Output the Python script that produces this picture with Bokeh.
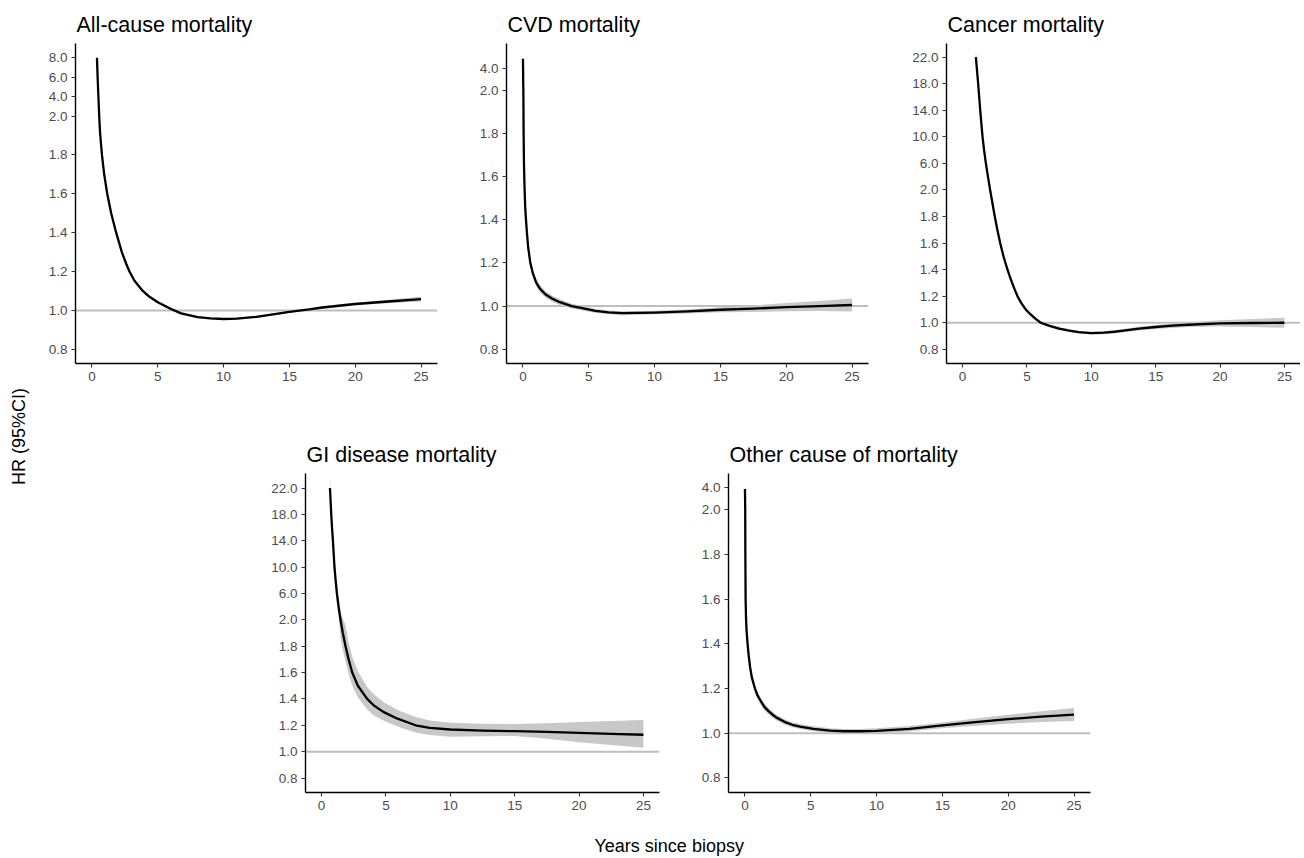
import math
from bokeh.plotting import figure
from bokeh.layouts import row, column
from bokeh.models import Spacer, Span, FixedTicker, CustomJSTickFormatter, Range1d
from bokeh.core.properties import value
from bokeh.embed import file_html
from bokeh.resources import INLINE

FONT = "Liberation Sans"

# ---------------- data ----------------
x_ticks = [0, 5, 10, 15, 20, 25]

allcause_title = "All-cause mortality"
allcause_yticks = [0.8, 1.0, 1.2, 1.4, 1.6, 1.8, 2.0, 4.0, 6.0, 8.0]
allcause_x = [0.38, 0.43, 0.49, 0.55, 0.62, 0.76, 0.93, 1.16, 1.46, 1.84, 2.27, 2.60, 2.85, 3.23, 3.86, 4.37, 5.0, 5.63, 6.01, 6.77, 8.03, 9.0, 10.0, 11.0, 12.5, 14.0, 15.0, 16.5, 17.5, 20.0, 22.5, 25.0]
allcause_hr = [8.0, 6.0, 4.0, 2.0, 1.91, 1.80, 1.70, 1.60, 1.50, 1.40, 1.30, 1.24, 1.20, 1.153, 1.10, 1.07, 1.042, 1.02, 1.007, 0.985, 0.966, 0.959, 0.956, 0.958, 0.967, 0.982, 0.993, 1.005, 1.015, 1.033, 1.046, 1.058]
allcause_lo = [7.6, 5.7, 3.8, 1.97, 1.88, 1.775, 1.68, 1.582, 1.484, 1.387, 1.289, 1.231, 1.191, 1.145, 1.093, 1.063, 1.035, 1.014, 1.001, 0.980, 0.961, 0.954, 0.951, 0.953, 0.962, 0.977, 0.988, 1.0, 1.009, 1.026, 1.037, 1.046]
allcause_hi = [8.4, 6.3, 4.2, 2.03, 1.94, 1.825, 1.72, 1.618, 1.516, 1.413, 1.311, 1.249, 1.209, 1.161, 1.107, 1.077, 1.049, 1.026, 1.013, 0.990, 0.971, 0.964, 0.961, 0.963, 0.972, 0.987, 0.998, 1.010, 1.021, 1.040, 1.055, 1.070]

cvd_title = "CVD mortality"
cvd_yticks = [0.8, 1.0, 1.2, 1.4, 1.6, 1.8, 2.0, 4.0]
cvd_x = [0.0, 0.01, 0.02, 0.03, 0.05, 0.08, 0.12, 0.17, 0.23, 0.30, 0.40, 0.56, 0.76, 1.0, 1.3, 1.7, 2.2, 2.8, 3.7, 4.5, 5.5, 6.5, 7.5, 10.0, 12.5, 15.0, 17.5, 20.0, 22.5, 25.0]
cvd_hr = [4.9, 4.0, 2.6, 2.0, 1.8, 1.65, 1.55, 1.46, 1.40, 1.34, 1.27, 1.20, 1.15, 1.11, 1.08, 1.055, 1.035, 1.018, 1.0, 0.99, 0.978, 0.971, 0.967, 0.970, 0.975, 0.983, 0.988, 0.995, 1.0, 1.005]
cvd_lo = [4.6, 3.7, 2.4, 1.95, 1.76, 1.61, 1.515, 1.43, 1.375, 1.317, 1.25, 1.183, 1.134, 1.094, 1.064, 1.04, 1.021, 1.005, 0.989, 0.980, 0.969, 0.962, 0.958, 0.962, 0.966, 0.971, 0.973, 0.976, 0.977, 0.975]
cvd_hi = [5.2, 4.3, 2.8, 2.05, 1.84, 1.69, 1.585, 1.49, 1.425, 1.363, 1.29, 1.217, 1.166, 1.126, 1.096, 1.07, 1.049, 1.031, 1.011, 1.0, 0.987, 0.980, 0.976, 0.978, 0.984, 0.995, 1.003, 1.014, 1.024, 1.035]

cancer_title = "Cancer mortality"
cancer_yticks = [0.8, 1.0, 1.2, 1.4, 1.6, 1.8, 2.0, 6.0, 10.0, 14.0, 18.0, 22.0]
cancer_x = [1.03, 1.12, 1.21, 1.29, 1.37, 1.46, 1.55, 1.67, 1.81, 1.97, 2.14, 2.32, 2.5, 2.7, 2.92, 3.05, 3.18, 3.33, 3.49, 3.66, 3.85, 4.05, 4.26, 4.55, 4.9, 5.15, 5.43, 5.72, 6.07, 6.7, 7.5, 8.3, 9.0, 10.0, 11.0, 11.8, 12.5, 13.7, 15.0, 16.3, 17.5, 20.0, 22.5, 25.0]
cancer_hr = [22.0, 20.0, 18.0, 16.0, 14.0, 12.0, 10.0, 8.0, 6.0, 4.0, 2.0, 1.9, 1.8, 1.7, 1.6, 1.55, 1.5, 1.45, 1.4, 1.35, 1.3, 1.25, 1.2, 1.15, 1.1, 1.075, 1.05, 1.025, 1.0, 0.978, 0.955, 0.940, 0.930, 0.922, 0.925, 0.932, 0.940, 0.955, 0.968, 0.978, 0.985, 0.995, 0.998, 1.0]
cancer_lo = [21.0, 19.0, 17.0, 15.0, 13.1, 11.1, 9.2, 7.2, 5.3, 3.4, 1.96, 1.87, 1.77, 1.675, 1.578, 1.53, 1.481, 1.432, 1.384, 1.335, 1.287, 1.238, 1.188, 1.139, 1.088, 1.063, 1.037, 1.013, 0.988, 0.967, 0.944, 0.930, 0.920, 0.912, 0.914, 0.920, 0.928, 0.941, 0.953, 0.961, 0.967, 0.972, 0.968, 0.962]
cancer_hi = [23.0, 21.0, 19.0, 17.0, 14.9, 12.9, 10.8, 8.8, 6.7, 4.6, 2.3, 1.93, 1.83, 1.725, 1.622, 1.57, 1.519, 1.468, 1.416, 1.365, 1.313, 1.262, 1.212, 1.161, 1.112, 1.087, 1.063, 1.037, 1.012, 0.989, 0.966, 0.950, 0.940, 0.932, 0.936, 0.944, 0.952, 0.969, 0.983, 0.995, 1.003, 1.018, 1.028, 1.038]

gi_title = "GI disease mortality"
gi_yticks = [0.8, 1.0, 1.2, 1.4, 1.6, 1.8, 2.0, 6.0, 10.0, 14.0, 18.0, 22.0]
gi_x = [0.65, 0.70, 0.75, 0.81, 0.88, 0.94, 1.0, 1.09, 1.19, 1.32, 1.47, 1.65, 1.86, 2.1, 2.38, 2.82, 3.54, 4.06, 4.83, 5.9, 7.3, 8.4, 10.0, 12.5, 15.0, 17.5, 20.0, 22.5, 25.0]
gi_hr = [22.0, 20.0, 18.0, 16.0, 14.0, 12.0, 10.0, 8.0, 6.0, 4.0, 2.0, 1.9, 1.8, 1.7, 1.6, 1.5, 1.4, 1.35, 1.3, 1.25, 1.2, 1.18, 1.168, 1.16, 1.155, 1.15, 1.143, 1.135, 1.128]
gi_lo = [20.5, 18.3, 16.2, 14.2, 12.2, 10.2, 8.2, 6.3, 4.4, 2.6, 1.86, 1.77, 1.68, 1.59, 1.50, 1.41, 1.32, 1.275, 1.235, 1.19, 1.145, 1.127, 1.113, 1.116, 1.118, 1.098, 1.072, 1.05, 1.03]
gi_hi = [23.5, 21.7, 19.8, 17.8, 15.8, 13.8, 11.8, 9.7, 7.6, 5.4, 3.2, 2.15, 1.96, 1.83, 1.72, 1.61, 1.49, 1.435, 1.375, 1.315, 1.262, 1.237, 1.219, 1.212, 1.21, 1.215, 1.224, 1.232, 1.24]

other_title = "Other cause of mortality"
other_yticks = [0.8, 1.0, 1.2, 1.4, 1.6, 1.8, 2.0, 4.0]
other_x = [0.0, 0.01, 0.02, 0.03, 0.05, 0.08, 0.12, 0.20, 0.28, 0.38, 0.52, 0.76, 0.95, 1.14, 1.45, 1.77, 2.1, 2.4, 3.04, 3.6, 4.18, 5.2, 6.46, 7.5, 8.75, 10.0, 12.5, 15.0, 17.5, 20.0, 22.5, 25.0]
other_hr = [3.85, 3.0, 2.0, 1.8, 1.6, 1.52, 1.46, 1.40, 1.35, 1.30, 1.25, 1.20, 1.17, 1.15, 1.12, 1.10, 1.083, 1.07, 1.05, 1.038, 1.03, 1.02, 1.012, 1.009, 1.009, 1.011, 1.02, 1.035, 1.05, 1.063, 1.074, 1.083]
other_lo = [3.6, 2.8, 1.95, 1.77, 1.57, 1.49, 1.435, 1.375, 1.327, 1.279, 1.23, 1.182, 1.153, 1.133, 1.104, 1.085, 1.069, 1.057, 1.038, 1.027, 1.019, 1.009, 1.002, 0.999, 0.999, 1.0, 1.008, 1.022, 1.034, 1.043, 1.05, 1.055]
other_hi = [4.1, 3.2, 2.05, 1.83, 1.63, 1.55, 1.485, 1.425, 1.373, 1.321, 1.27, 1.218, 1.187, 1.167, 1.136, 1.115, 1.097, 1.083, 1.062, 1.049, 1.041, 1.031, 1.022, 1.019, 1.019, 1.022, 1.032, 1.048, 1.066, 1.083, 1.098, 1.113]

y_label = "HR (95%CI)"
x_label = "Years since biopsy"
ref_hr = 1.0

# ---------------- broken y scale: linear to 2.0, compressed above ----------------
BREAK = 2.0
SQUEEZE = 0.05


def tr(v):
    return v if v <= BREAK else BREAK + (v - BREAK) * SQUEEZE


def trl(vals):
    return [round(tr(v), 6) for v in vals]


formatter = CustomJSTickFormatter(code="""
    const v = tick <= 2.00001 ? tick : 2.0 + (tick - 2.0) / 0.05;
    return v.toFixed(1);
""")


def panel(title, xs, hr, lo, hi, yticks, y0, y1, mbl, fw, mbr, mbt, fh, mbb):
    p = figure(width=mbl + fw + mbr, height=mbt + fh + mbb,
               min_border_left=mbl, min_border_right=mbr,
               min_border_top=mbt, min_border_bottom=mbb,
               x_range=Range1d(-1.25, 26.25), y_range=Range1d(y0, y1),
               output_backend="svg", toolbar_location=None,
               background_fill_color="white", border_fill_color="white")
    p.outline_line_color = None
    p.grid.visible = False
    p.title.text = title
    p.title.text_font = FONT
    p.title.text_font_size = "21.5px"
    p.title.text_font_style = "normal"
    p.title.text_color = "black"
    p.title.standoff = 13
    p.title.offset = 1

    p.add_layout(Span(location=tr(ref_hr), dimension="width",
                      line_color="#BEBEBE", line_width=2, level="underlay"))
    p.varea(x=xs, y1=trl(lo), y2=trl(hi), fill_color="#C8C8C8", fill_alpha=1.0)
    p.line(x=xs, y=trl(hr), line_color="black", line_width=2.3, line_join="round")

    for ax in (p.xaxis[0], p.yaxis[0]):
        ax.axis_line_color = "black"
        ax.axis_line_width = 1.4
        ax.major_tick_line_color = "#333333"
        ax.major_tick_line_width = 1.1
        ax.major_tick_out = 4
        ax.major_tick_in = 0
        ax.minor_tick_line_color = None
        ax.major_label_text_font = FONT
        ax.major_label_text_font_size = "13.5px"
        ax.major_label_text_color = "#4D4D4D"
        ax.major_label_standoff = 4
    p.xaxis.ticker = FixedTicker(ticks=x_ticks)
    p.yaxis.ticker = FixedTicker(ticks=trl(yticks))
    p.yaxis.formatter = formatter
    return p


TOP_T, TOP_H, TOP_B = 43, 320, 37
BOT_T, BOT_H, BOT_B = 73, 319, 30
LEFT_W = 38
TOTAL_H = 858

pA = panel(allcause_title, allcause_x, allcause_hr, allcause_lo, allcause_hi,
           allcause_yticks, 0.727, 2.373, 37, 362, 29, TOP_T, TOP_H, TOP_B)
pB = panel(cvd_title, cvd_x, cvd_hr, cvd_lo, cvd_hi,
           cvd_yticks, 0.734, 2.216, 40, 362, 37, TOP_T, TOP_H, TOP_B)
pC = panel(cancer_title, cancer_x, cancer_hr, cancer_lo, cancer_hi,
           cancer_yticks, 0.693, 3.103, 41, 354, 0, TOP_T, TOP_H, TOP_B)
pD = panel(gi_title, gi_x, gi_hr, gi_lo, gi_hi,
           gi_yticks, 0.69, 3.11, 41, 354, 29, BOT_T, BOT_H, BOT_B)
pE = panel(other_title, other_x, other_hr, other_lo, other_hi,
           other_yticks, 0.735, 2.162, 40, 362, 10, BOT_T, BOT_H, BOT_B)

top_row = row(pA, pB, pC)
bottom_row = row(Spacer(width=226, height=BOT_T + BOT_H + BOT_B), pD, pE)

TOP_ROW_W = pA.width + pB.width + pC.width
XL_H = TOTAL_H - (TOP_T + TOP_H + TOP_B) - (BOT_T + BOT_H + BOT_B)


def text_fig(w, h):
    f = figure(width=w, height=h, x_range=Range1d(0, w), y_range=Range1d(0, h),
               title=None, min_border=0, output_backend="svg", toolbar_location=None,
               x_axis_location=None, y_axis_location=None)
    f.outline_line_color = None
    f.grid.visible = False
    return f


xlab = text_fig(TOP_ROW_W, XL_H)
xlab.text(x=[668.7 - LEFT_W], y=[13], text=[x_label], text_font=value(FONT),
          text_font_size="18px", text_color="black",
          text_align="center", text_baseline="alphabetic")

ylab = text_fig(LEFT_W, TOTAL_H)
ylab.text(x=[18], y=[TOTAL_H - 436], text=[y_label], text_font=value(FONT),
          text_font_size="18px", text_color="black", angle=math.pi / 2,
          text_align="center", text_baseline="middle")

layout = row(ylab, column(top_row, bottom_row, xlab))

open("out.html", "w").write(file_html(layout, INLINE))
